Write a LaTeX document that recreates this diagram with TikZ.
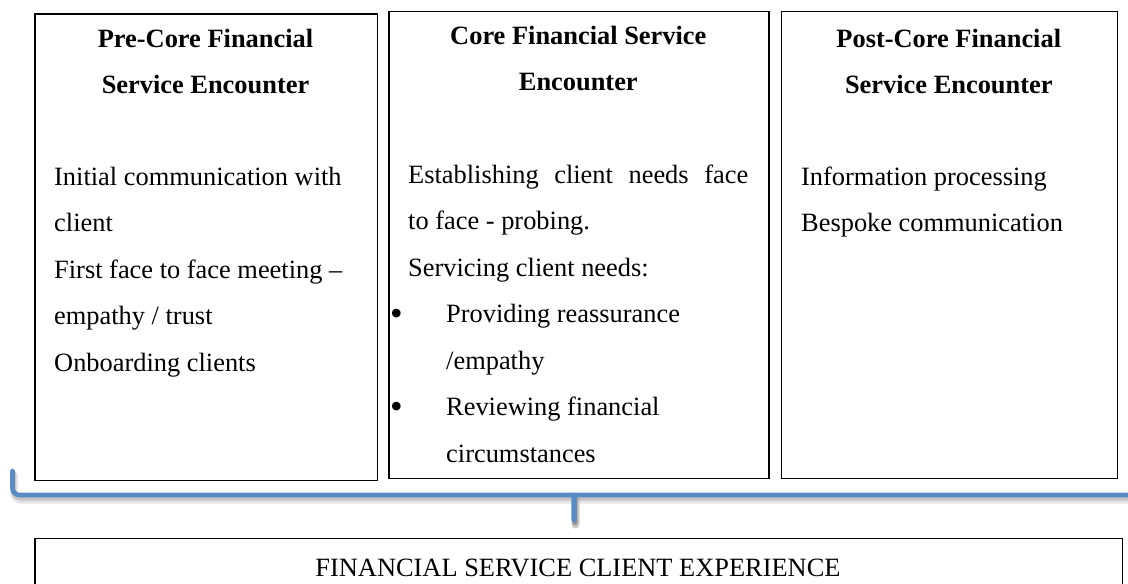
\documentclass[tikz,border=0pt]{standalone}
\usepackage{fontspec}
\setmainfont{Liberation Serif}
\definecolor{braceblue}{RGB}{88,138,196}
\newcommand\bodyfs{\fontsize{26.4}{46}\selectfont}
\begin{document}
\begin{tikzpicture}[x=1pt,y=-1pt,
  box/.style={draw=black,line width=1.3pt,inner sep=0pt,anchor=north west},
  txt/.style={inner sep=0pt,anchor=base west,font=\bodyfs},
  hd/.style={inner sep=0pt,anchor=base,font=\bodyfs\bfseries},
  bul/.style={inner sep=0pt,anchor=base west,font=\fontsize{36}{46}\selectfont},
  bracepath/.style={draw=braceblue,line width=4.6pt,line cap=round,line join=round,rounded corners=7pt},
  braceshadow/.style={draw=black,line width=#1,line cap=round,line join=round,rounded corners=7pt}
]
\useasboundingbox (0,0) rectangle (1128,584);
\clip (0,0) rectangle (1128,584);
\fill[white] (0,0) rectangle (1128,584);

% boxes
\node[box,minimum width=342.4pt,minimum height=466.2pt] (b1) at (34.3,13.3) {};
\node[box,minimum width=380pt,minimum height=466.7pt] (b2) at (388.3,11) {};
\node[box,minimum width=335.7pt,minimum height=466.7pt] (b3) at (781,11) {};
\node[box,minimum width=1087.4pt,minimum height=70pt] (b4) at (34.3,537.7) {};

% brace shadow
\begin{scope}[shift={(1.5,4.5)},opacity=0.10]
\draw[braceshadow=8pt] (12.5,471) -- (12.5,495) -- (567,495) .. controls (572,495) and (574,497) .. (574,502) -- (574,520);
\draw[braceshadow=8pt] (574,520) -- (574,502) .. controls (574,497) and (576,495) .. (581,495) -- (1135.5,495) -- (1135.5,471);
\end{scope}
\begin{scope}[shift={(1,3)},opacity=0.14]
\draw[braceshadow=5pt] (12.5,471) -- (12.5,495) -- (567,495) .. controls (572,495) and (574,497) .. (574,502) -- (574,520);
\draw[braceshadow=5pt] (574,520) -- (574,502) .. controls (574,497) and (576,495) .. (581,495) -- (1135.5,495) -- (1135.5,471);
\end{scope}
% brace
\coordinate (brL) at (12.5,471);
\coordinate (brR) at (1135.5,471);
\coordinate (brTip) at (574,520);
\draw[bracepath] (brL) -- (12.5,495) -- (567,495) .. controls (572,495) and (574,497) .. (574,502) -- (brTip);
\draw[bracepath] (brTip) -- (574,502) .. controls (574,497) and (576,495) .. (581,495) -- (1135.5,495) -- (brR);

% box 1
\node[hd] (h1a) at (205.5,47) {Pre-Core Financial};
\node[hd] (h1b) at (205.5,93) {Service Encounter};
\node[txt] (t1a) at (54,185) {Initial communication with};
\node[txt] (t1b) at (54,231.5) {client};
\node[txt] (t1c) at (54,278) {First face to face meeting –};
\node[txt] (t1d) at (54,324.5) {empathy / trust};
\node[txt] (t1e) at (54,371) {Onboarding clients};

% box 2
\node[hd] (h2a) at (578.3,44) {Core Financial Service};
\node[hd] (h2b) at (578.3,90) {Encounter};
\node[txt] (t2a) at (408,183) {\makebox[340pt][s]{Establishing client needs face}};
\node[txt] (t2b) at (408,229.5) {to face - probing.};
\node[txt] (t2c) at (408,276) {Servicing client needs:};
\node[bul] (u1) at (390,325) {•};
\node[txt] (t2d) at (446,322.5) {Providing reassurance};
\node[txt] (t2e) at (446,369) {/empathy};
\node[bul] (u2) at (390,418) {•};
\node[txt] (t2f) at (446,415.5) {Reviewing financial};
\node[txt] (t2g) at (446,462) {circumstances};

% box 3
\node[hd] (h3a) at (948.8,47) {Post-Core Financial};
\node[hd] (h3b) at (948.8,93) {Service Encounter};
\node[txt] (t3a) at (801,185) {Information processing};
\node[txt] (t3b) at (801,231.5) {Bespoke communication};

% bottom
\node[inner sep=0pt,anchor=base,font=\bodyfs] (t4) at (578,576) {FINANCIAL SERVICE CLIENT EXPERIENCE};
\end{tikzpicture}
\end{document}
